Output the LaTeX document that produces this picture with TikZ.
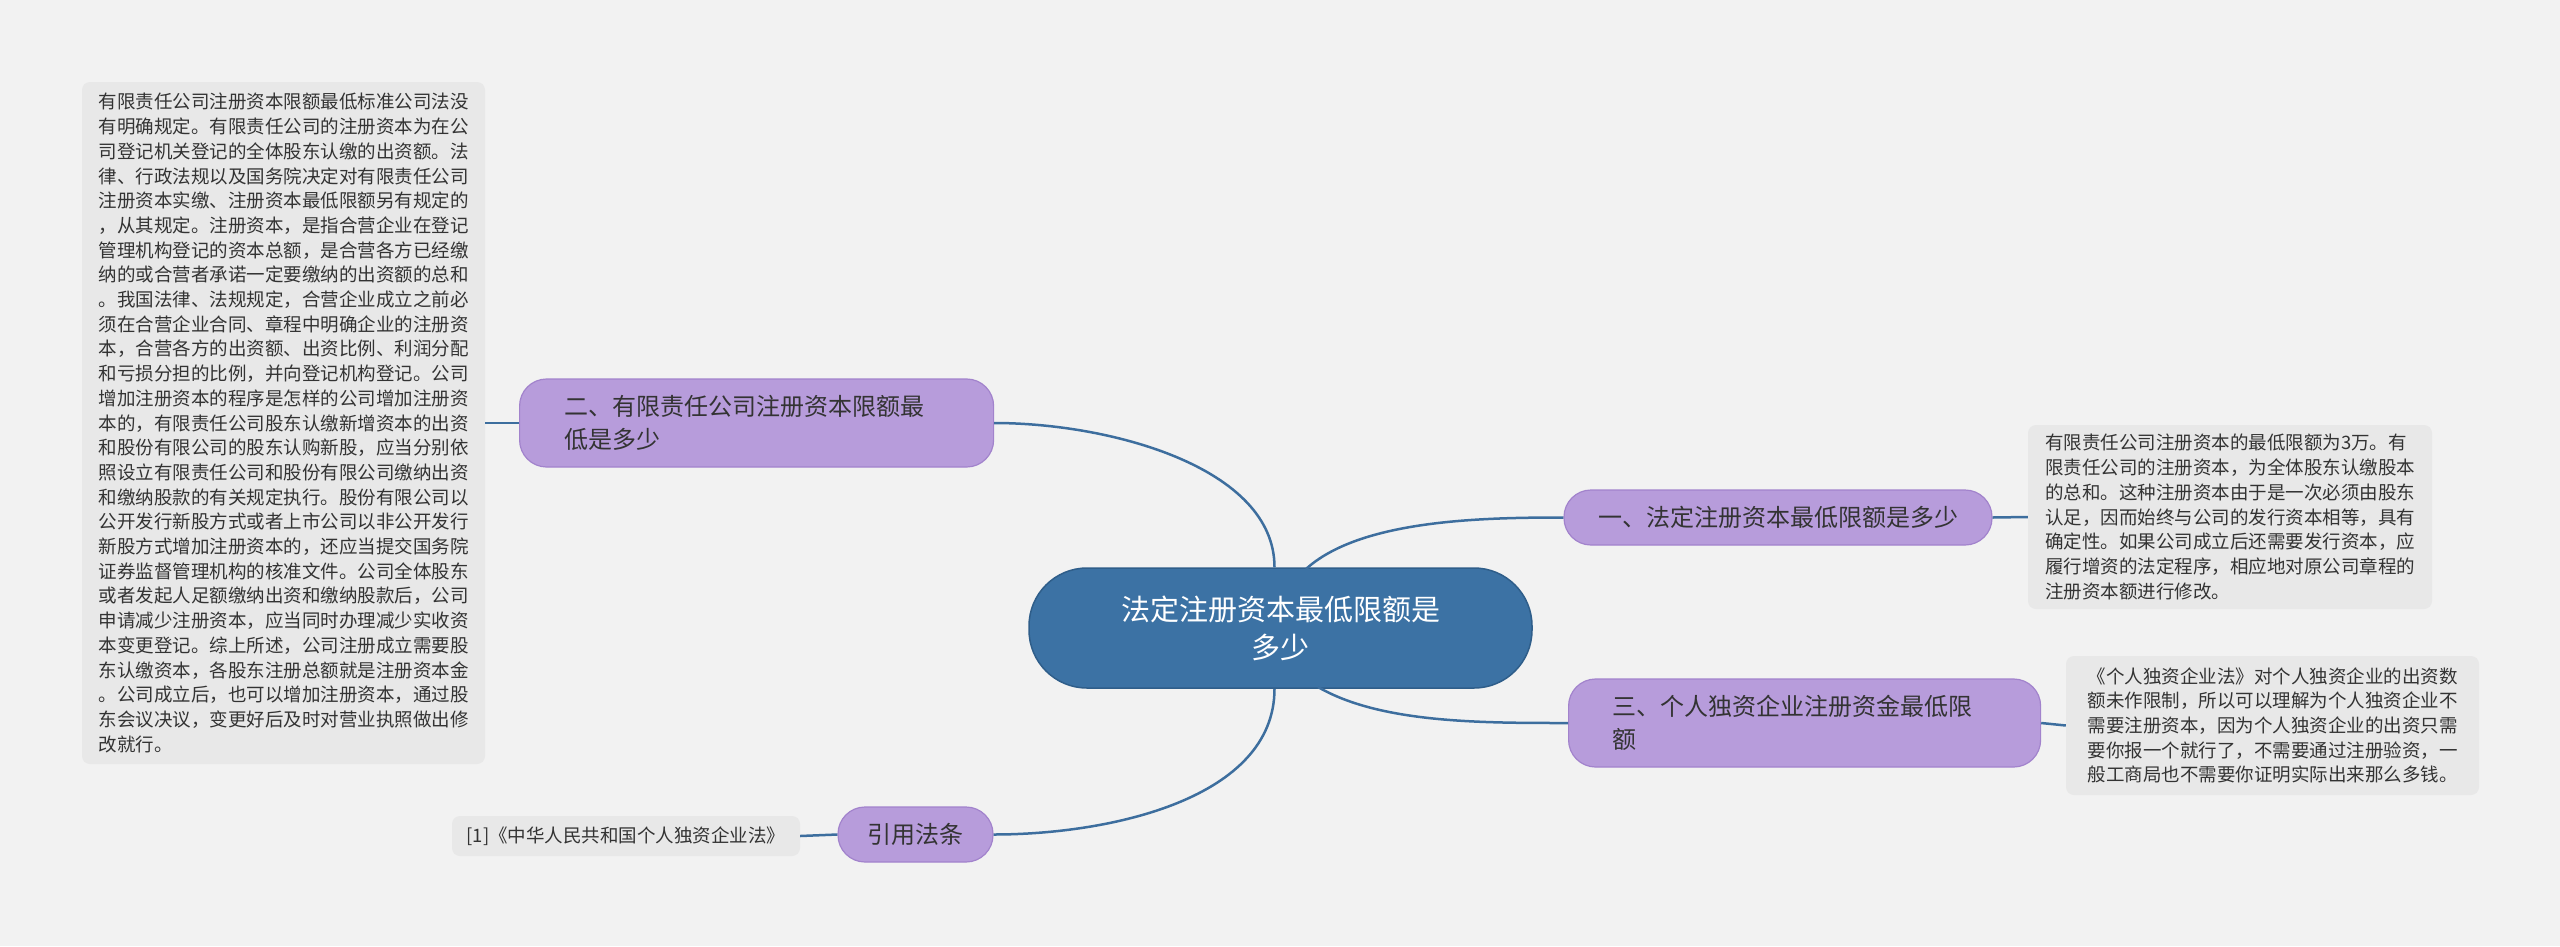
\documentclass[tikz,border=0pt]{standalone}
\usepackage{fontspec}
\usetikzlibrary{calc}
\setmainfont{Noto Sans CJK SC}
\definecolor{bg}{HTML}{F2F2F2}
\definecolor{mainfill}{HTML}{3C72A4}
\definecolor{maindraw}{HTML}{2F5E8A}
\definecolor{subfill}{HTML}{B79CDB}
\definecolor{subdraw}{HTML}{A283CC}
\definecolor{leaffill}{HTML}{E8E8E8}
\definecolor{linkc}{HTML}{3D6E9E}
\definecolor{txt}{HTML}{333333}
\tikzset{
 mainbox/.style={fill=mainfill,draw=maindraw,line width=1.5pt,rounded corners=58pt,text=white,font=\fontsize{29}{38}\selectfont,align=center,minimum width=503pt,minimum height=120pt,inner sep=0pt},
 subbox/.style={fill=subfill,draw=subdraw,line width=1.2pt,rounded corners=27pt,text=txt,font=\fontsize{24}{33}\selectfont,inner sep=0pt},
 leafbox/.style={fill=leaffill,rounded corners=8pt,text=txt,font=\fontsize{18.5}{24.7}\selectfont,align=left,inner sep=0pt},
 link/.style={draw=linkc,line width=2.5pt},
}
\begin{document}
\begin{tikzpicture}[x=1pt,y=-1pt]
\fill[bg] (0,0) rectangle (2560,946);
\useasboundingbox (0,0) rectangle (2560,946);
\node[mainbox] (c) at (1280.5,628) {法定注册资本最低限额是\\多少};
\node[subbox,minimum width=428pt,minimum height=55pt] (b1) at (1778,517.5) {一、法定注册资本最低限额是多少};
\node[subbox,anchor=west,text width=384pt,align=left,inner xsep=45pt,minimum height=88pt] (b2) at (519,423) {二、有限责任公司注册资本限额最\\低是多少};
\node[subbox,anchor=west,text width=384pt,align=left,inner xsep=44pt,minimum height=88pt] (b3) at (1568,723) {三、个人独资企业注册资金最低限\\额};
\node[subbox,minimum width=155pt,minimum height=55pt] (b4) at (915.5,834.5) {引用法条};
\node[leafbox,minimum width=403pt,minimum height=682pt] (l2) at (283.5,423) {有限责任公司注册资本限额最低标准公司法没\\有明确规定。有限责任公司的注册资本为在公\\司登记机关登记的全体股东认缴的出资额。法\\律、行政法规以及国务院决定对有限责任公司\\注册资本实缴、注册资本最低限额另有规定的\\，从其规定。注册资本，是指合营企业在登记\\管理机构登记的资本总额，是合营各方已经缴\\纳的或合营者承诺一定要缴纳的出资额的总和\\。我国法律、法规规定，合营企业成立之前必\\须在合营企业合同、章程中明确企业的注册资\\本，合营各方的出资额、出资比例、利润分配\\和亏损分担的比例，并向登记机构登记。公司\\增加注册资本的程序是怎样的公司增加注册资\\本的，有限责任公司股东认缴新增资本的出资\\和股份有限公司的股东认购新股，应当分别依\\照设立有限责任公司和股份有限公司缴纳出资\\和缴纳股款的有关规定执行。股份有限公司以\\公开发行新股方式或者上市公司以非公开发行\\新股方式增加注册资本的，还应当提交国务院\\证券监督管理机构的核准文件。公司全体股东\\或者发起人足额缴纳出资和缴纳股款后，公司\\申请减少注册资本，应当同时办理减少实收资\\本变更登记。综上所述，公司注册成立需要股\\东认缴资本，各股东注册总额就是注册资本金\\。公司成立后，也可以增加注册资本，通过股\\东会议决议，变更好后及时对营业执照做出修\\改就行。};
\node[leafbox,minimum width=404pt,minimum height=184pt] (l1) at (2230,517) {有限责任公司注册资本的最低限额为3万。有\\限责任公司的注册资本，为全体股东认缴股本\\的总和。这种注册资本由于是一次必须由股东\\认足，因而始终与公司的发行资本相等，具有\\确定性。如果公司成立后还需要发行资本，应\\履行增资的法定程序，相应地对原公司章程的\\注册资本额进行修改。};
\node[leafbox,minimum width=413pt,minimum height=139pt] (l3) at (2272.5,725.5) {《个人独资企业法》对个人独资企业的出资数\\额未作限制，所以可以理解为个人独资企业不\\需要注册资本，因为个人独资企业的出资只需\\要你报一个就行了，不需要通过注册验资，一\\般工商局也不需要你证明实际出来那么多钱。};
\node[leafbox,minimum width=348pt,minimum height=40pt] (l4) at (626,836) {[1]《中华人民共和国个人独资企业法》};
\coordinate (c2) at ($(c.north)+(-6,0)$);
\coordinate (c4) at ($(c.south)+(-6,0)$);
\draw[link] (c2) .. controls ($(c2)+(0,-100)$) and (1110,423) .. (b2.east);
\draw[link] (c4) .. controls ($(c4)+(0,110)$) and (1110,834.5) .. (b4.east);
\draw[link] (1306,569) .. controls (1360,520) and (1480,517.5) .. (b1.west);
\draw[link] (1318,687) .. controls (1380,723) and (1480,723) .. (b3.west);
\draw[link] (b2.west) -- (l2.east);
\draw[link] (b1.east) -- (l1.west);
\draw[link] (b3.east) -- (l3.west);
\draw[link] (b4.west) -- (l4.east);
\end{tikzpicture}
\end{document}
